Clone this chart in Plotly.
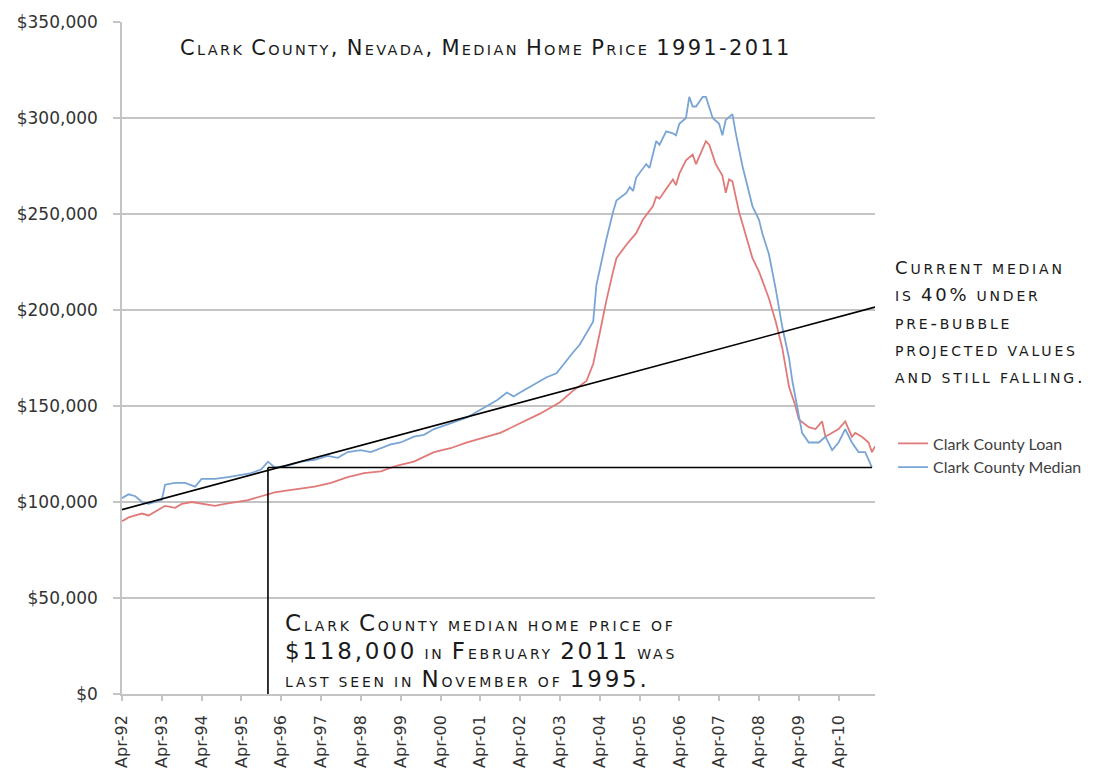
import plotly.graph_objects as go

# ---------------- data (values in thousands of dollars) ----------------
median_dates = [
    "1992-04", "1992-06", "1992-08", "1992-10", "1992-12", "1993-02", "1993-04", "1993-05",
    "1993-08", "1993-11", "1994-02", "1994-04", "1994-08", "1994-12", "1995-04", "1995-07",
    "1995-10", "1995-12", "1996-02", "1996-06", "1996-10", "1997-02", "1997-06", "1997-09",
    "1997-12", "1998-04", "1998-07", "1998-10", "1999-01", "1999-04", "1999-08", "1999-11",
    "2000-02", "2000-07", "2000-12", "2001-03", "2001-06", "2001-09", "2001-12", "2002-02",
    "2002-04", "2002-06", "2002-09", "2002-12", "2003-03", "2003-06", "2003-08", "2003-10",
    "2003-12", "2004-02", "2004-03", "2004-05", "2004-06", "2004-08", "2004-09", "2004-12",
    "2005-01", "2005-02", "2005-03", "2005-06", "2005-07", "2005-09", "2005-10", "2005-12",
    "2006-02", "2006-03", "2006-04", "2006-06", "2006-07", "2006-08", "2006-09", "2006-11",
    "2006-12", "2007-02", "2007-04", "2007-05", "2007-06", "2007-08", "2007-09", "2007-11",
    "2007-12", "2008-02", "2008-04", "2008-05", "2008-07", "2008-09", "2008-11", "2009-01",
    "2009-02", "2009-04", "2009-05", "2009-07", "2009-10", "2009-12", "2010-02", "2010-04",
    "2010-06", "2010-08", "2010-10", "2010-12", "2011-02",
]
median_values_k = [
    102, 104, 103, 100, 99, 100, 101, 109,
    110, 110, 108, 112, 112, 113, 114, 115,
    117, 121, 118, 119, 121, 122, 124, 123,
    126, 127, 126, 128, 130, 131, 134, 135,
    138, 141, 144, 147, 150, 153, 157, 155,
    157, 159, 162, 165, 167, 174, 178, 182,
    188, 194, 213, 230, 237, 251, 257, 261,
    264, 262, 269, 276, 274, 288, 286, 293,
    292, 291, 297, 300, 311, 306, 306, 311,
    311, 300, 297, 291, 299, 302, 292, 275,
    268, 254, 247, 240, 229, 211, 191, 175,
    163, 144, 136, 131, 131, 134, 127, 131,
    138, 131, 126, 126, 118,
]

loan_dates = [
    "1992-04", "1992-06", "1992-08", "1992-10", "1992-12", "1993-02", "1993-05", "1993-08",
    "1993-10", "1994-01", "1994-05", "1994-08", "1994-11", "1995-02", "1995-06", "1995-10",
    "1996-02", "1996-06", "1996-10", "1997-02", "1997-07", "1997-12", "1998-05", "1998-10",
    "1999-03", "1999-08", "2000-02", "2000-07", "2000-12", "2001-06", "2001-10", "2002-04",
    "2002-10", "2003-04", "2003-08", "2003-12", "2004-02", "2004-04", "2004-06", "2004-08",
    "2004-09", "2004-12", "2005-03", "2005-05", "2005-08", "2005-09", "2005-10", "2005-12",
    "2006-02", "2006-03", "2006-04", "2006-06", "2006-08", "2006-09", "2006-10", "2006-12",
    "2007-01", "2007-03", "2007-05", "2007-06", "2007-07", "2007-08", "2007-10", "2007-12",
    "2008-02", "2008-04", "2008-05", "2008-07", "2008-09", "2008-11", "2009-01", "2009-03",
    "2009-04", "2009-07", "2009-09", "2009-11", "2009-12", "2010-02", "2010-04", "2010-06",
    "2010-08", "2010-09", "2010-11", "2011-01", "2011-02", "2011-03",
]
loan_values_k = [
    90, 92, 93, 94, 93, 95, 98, 97,
    99, 100, 99, 98, 99, 100, 101, 103,
    105, 106, 107, 108, 110, 113, 115, 116,
    119, 121, 126, 128, 131, 134, 136, 141,
    146, 152, 158, 163, 172, 188, 205, 220,
    227, 234, 240, 247, 254, 259, 258, 263,
    268, 265, 271, 278, 281, 276, 280, 288,
    286, 276, 270, 261, 268, 267, 251, 239,
    227, 220, 215, 206, 194, 180, 160, 150,
    143, 139, 138, 142, 134, 136, 138, 142,
    134, 136, 134, 131, 126, 129,
]

# pre-bubble projection line (start, end) and the "last seen" marker
trend_dates = ["1992-04-01", "2011-03-01"]
trend_values = [96000, 201500]
current_price = 118000
last_seen_date = "1995-12-01"
current_date = "2011-02-01"

x_tick_vals = ["1992-04-01", "1993-04-01", "1994-04-01", "1995-04-01", "1996-04-01",
               "1997-04-01", "1998-04-01", "1999-04-01", "2000-04-01", "2001-04-01",
               "2002-04-01", "2003-04-01", "2004-04-01", "2005-04-01", "2006-04-01",
               "2007-04-01", "2008-04-01", "2009-04-01", "2010-04-01"]
x_tick_text = ["Apr-92", "Apr-93", "Apr-94", "Apr-95", "Apr-96", "Apr-97", "Apr-98",
               "Apr-99", "Apr-00", "Apr-01", "Apr-02", "Apr-03", "Apr-04", "Apr-05",
               "Apr-06", "Apr-07", "Apr-08", "Apr-09", "Apr-10"]

title_text = "Clark County, Nevada, Median Home Price 1991-2011"
right_note = ["Current median", "is 40% under", "pre-bubble", "projected values",
              "and still falling."]
bottom_note = ["Clark County median home price of", "$118,000 in February 2011 was",
               "last seen in November of 1995."]

RED = "#E07A78"
BLUE = "#79A5D6"
GRID = "#C4C4C4"
NOTE_FONT = "DejaVu Sans"


def small_caps(text, big, small, ls):
    parts = []
    cur, buf = None, ""
    for ch in text:
        kind = "s" if (ch.islower() or ch == " ") else "b"
        if kind != cur and buf:
            parts.append((cur, buf))
            buf = ""
        cur = kind
        buf += ch
    if buf:
        parts.append((cur, buf))
    out = ""
    for kind, s in parts:
        size = small if kind == "s" else big
        out += f"<span style='font-size:{size}px;letter-spacing:{ls}px'>{s.upper()}</span>"
    return out


fig = go.Figure()
fig.add_trace(go.Scatter(x=loan_dates, y=[v * 1000 for v in loan_values_k], mode="lines",
                         name="Clark County Loan", line=dict(color=RED, width=1.8)))
fig.add_trace(go.Scatter(x=median_dates, y=[v * 1000 for v in median_values_k], mode="lines",
                         name="Clark County Median", line=dict(color=BLUE, width=1.8)))
fig.add_trace(go.Scatter(x=trend_dates, y=trend_values, mode="lines", showlegend=False,
                         line=dict(color="black", width=1.6), hoverinfo="skip"))
fig.add_trace(go.Scatter(x=[last_seen_date, current_date], y=[current_price, current_price],
                         mode="lines", showlegend=False,
                         line=dict(color="black", width=1.6), hoverinfo="skip"))
fig.add_trace(go.Scatter(x=[last_seen_date, last_seen_date], y=[current_price, 0],
                         mode="lines", showlegend=False,
                         line=dict(color="black", width=1.6), hoverinfo="skip"))

fig.add_annotation(text=small_caps(title_text, 21, 14.5, 2.35), xref="paper", yref="paper",
                   x=0.0744, y=0.962, xanchor="left", yanchor="middle", showarrow=False,
                   font=dict(family=NOTE_FONT, size=21, color="#1a1a1a"), align="left")
fig.add_annotation(text="<br>".join(small_caps(t, 18, 14, 2.8) for t in right_note),
                   xref="paper", yref="paper", x=1.024, y=0.654, xanchor="left", yanchor="top",
                   showarrow=False, font=dict(family=NOTE_FONT, size=21, color="#1a1a1a"),
                   align="left")
fig.add_annotation(text="<br>".join(small_caps(t, 23, 14, 2.8) for t in bottom_note),
                   xref="paper", yref="paper", x=0.214, y=0.128, xanchor="left", yanchor="top",
                   showarrow=False, font=dict(family=NOTE_FONT, size=21.5, color="#1a1a1a"),
                   align="left")

fig.update_layout(
    width=1106, height=780,
    margin=dict(l=122, r=231, t=17, b=82),
    paper_bgcolor="white", plot_bgcolor="white",
    showlegend=True,
    legend=dict(x=1.024, y=0.355, xanchor="left", yanchor="middle",
                font=dict(family="Lato", size=16, color="#404040"),
                bgcolor="rgba(0,0,0,0)", tracegroupgap=0),
    xaxis=dict(type="date", range=["1992-04-01", "2011-03-01"],
               tickvals=x_tick_vals, ticktext=x_tick_text, tickangle=-90,
               ticks="outside", ticklen=5, tickcolor=GRID, tickwidth=1.5,
               showgrid=False, showline=True, linecolor=GRID, linewidth=1.5,
               zeroline=False, ticklabelstandoff=8,
               tickfont=dict(family="DejaVu Sans", size=16, color="#333333")),
    yaxis=dict(range=[0, 350000], dtick=50000, tickformat="$,.0f",
               ticks="outside", ticklen=7, tickcolor=GRID, tickwidth=1.5,
               showgrid=True, gridcolor=GRID, gridwidth=1.8,
               showline=True, linecolor=GRID, linewidth=1.5, zeroline=False,
               ticklabelstandoff=12,
               tickfont=dict(family="DejaVu Sans", size=17, color="#333333")),
)

fig.write_html("out.html")
